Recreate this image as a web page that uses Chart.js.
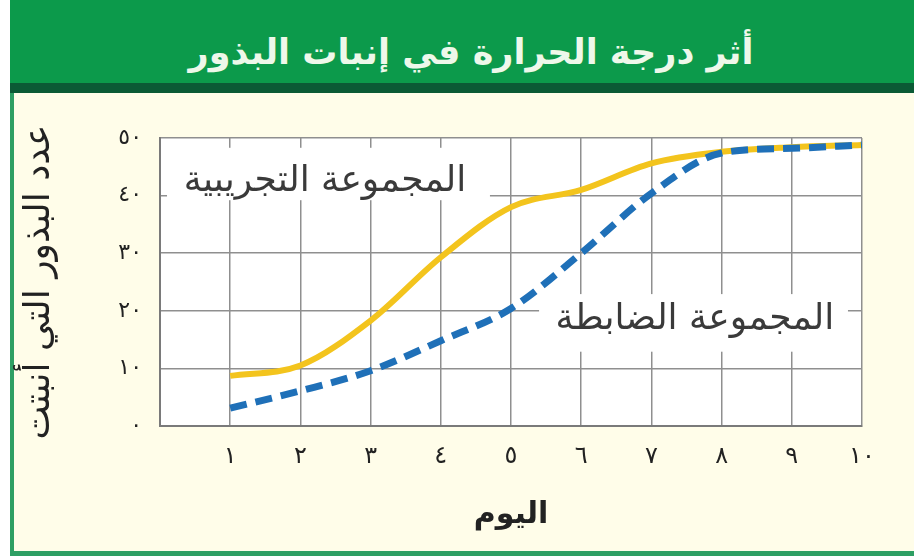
<!DOCTYPE html>
<html lang="ar">
<head>
<meta charset="utf-8">
<title>أثر درجة الحرارة في إنبات البذور</title>
<script src="https://cdn.jsdelivr.net/npm/chart.js@4.4.0/dist/chart.umd.min.js"></script>
<style>
  body { margin: 0; width: 914px; height: 557px; background: #fff; overflow: hidden; font-family: "DejaVu Sans", sans-serif; }
  #frame { position: absolute; left: 10px; top: 0; width: 904px; height: 556px; background: #fffde9;
           border-left: 4px solid #2e9f63; border-bottom: 5px solid #2e9f63; box-sizing: border-box; }
  #titleBar { position: absolute; left: 10px; top: 0; width: 904px; height: 83px; background: #0c9a4b;
              border-bottom: 10px solid #0b5a35; }
  #title { position: absolute; left: 10px; top: 0; width: 904px; height: 83px; line-height: 104px;
           text-align: center; color: #eef8ea; font-size: 35px; font-weight: bold; direction: rtl;
           padding-left: 18px; box-sizing: border-box; }
  #chartBox { position: absolute; left: 0; top: 95px; width: 914px; height: 462px; }
</style>
</head>
<body>
<div id="frame"></div>
<div id="titleBar"></div>
<div id="title">أثر درجة الحرارة في إنبات البذور</div>
<div id="chartBox"><canvas id="seedChart"></canvas></div>
<script>
const days = [1, 2, 3, 4, 5, 6, 7, 8, 9, 10];
const experimental = [8.7, 10.5, 18.3, 29.3, 38, 41, 45.6, 47.6, 48.4, 48.8];
const control = [3.1, 6.1, 9.6, 14.8, 20.4, 30, 40.4, 47.4, 48.2, 48.8];
const xTickLabels = ['', '١', '٢', '٣', '٤', '٥', '٦', '٧', '٨', '٩', '١٠'];
const yTickLabels = ['٠', '١٠', '٢٠', '٣٠', '٤٠', '٥٠'];
const seriesNames = ['المجموعة التجريبية', 'المجموعة الضابطة'];

const FONT = '"DejaVu Sans", sans-serif';

// white plot background
const plotBg = {
  id: 'plotBg',
  beforeDraw(chart) {
    const { ctx, chartArea: a } = chart;
    ctx.save();
    ctx.fillStyle = '#ffffff';
    ctx.fillRect(a.left, a.top, a.right - a.left, a.bottom - a.top);
    ctx.restore();
  }
};

// series names written in the plot, on white boxes that hide the grid
const seriesLabels = {
  id: 'seriesLabels',
  beforeDatasetsDraw(chart) {
    const { ctx } = chart;
    const x = chart.scales.x, y = chart.scales.y;
    const spots = [
      { text: seriesNames[0], cx: 2.35, cy: 42.4, x0: 0.1, x1: 4.7, y0: 48.3, y1: 39.2 },
      { text: seriesNames[1], cx: 7.62, cy: 18.5, x0: 5.4, x1: 9.8, y0: 22.9, y1: 12.9 }
    ];
    ctx.save();
    spots.forEach(s => {
      const l = x.getPixelForValue(s.x0), r = x.getPixelForValue(s.x1);
      const t = y.getPixelForValue(s.y0), b = y.getPixelForValue(s.y1);
      ctx.fillStyle = '#ffffff';
      ctx.fillRect(l, t, r - l, b - t);
      ctx.fillStyle = '#3a3a3a';
      ctx.font = '36px ' + FONT;
      ctx.direction = 'rtl';
      ctx.textAlign = 'center';
      ctx.textBaseline = 'middle';
      ctx.fillText(s.text, x.getPixelForValue(s.cx), y.getPixelForValue(s.cy));
    });
    ctx.restore();
  }
};

const ctx = document.getElementById('seedChart').getContext('2d');
new Chart(ctx, {
  type: 'line',
  data: {
    datasets: [
      {
        label: seriesNames[1],
        data: days.map((d, i) => ({ x: d, y: control[i] })),
        borderColor: '#1f70b8',
        borderWidth: 7,
        borderDash: [17, 9],
        cubicInterpolationMode: 'monotone',
        pointRadius: 0
      },
      {
        label: seriesNames[0],
        data: days.map((d, i) => ({ x: d, y: experimental[i] })),
        borderColor: '#f3c41d',
        borderWidth: 6,
        cubicInterpolationMode: 'monotone',
        pointRadius: 0
      }
    ]
  },
  options: {
    responsive: true,
    maintainAspectRatio: false,
    animation: false,
    layout: { padding: { top: 43, right: 52, left: 0, bottom: 0 } },
    plugins: { legend: { display: false }, tooltip: { enabled: false } },
    scales: {
      x: {
        type: 'linear',
        min: 0,
        max: 10,
        afterFit(scale) { scale.height = 131; },
        ticks: {
          stepSize: 1,
          maxRotation: 0,
          padding: 16,
          color: '#222',
          font: { family: FONT, size: 24 },
          callback: v => xTickLabels[v]
        },
        grid: { color: '#8f8f8f', lineWidth: 1.5, drawTicks: false },
        border: { color: '#7a7a7a', width: 2 },
        title: {
          display: true,
          text: 'اليوم',
          color: '#222',
          font: { family: FONT, size: 30, weight: 'bold' },
          padding: { top: 0, bottom: 24 }
        }
      },
      y: {
        min: 0,
        max: 50,
        afterFit(scale) { scale.width = 160; },
        ticks: {
          stepSize: 10,
          padding: 18,
          color: '#222',
          font: { family: FONT, size: 22 },
          callback: v => yTickLabels[v / 10]
        },
        grid: { color: '#8f8f8f', lineWidth: 1.5, drawTicks: false },
        border: { color: '#7a7a7a', width: 2 },
        title: {
          display: true,
          text: 'عدد البذور التي أنبتت',
          color: '#222',
          font: { family: FONT, size: 36 },
          padding: { top: 18, bottom: 0 }
        }
      }
    }
  },
  plugins: [plotBg, seriesLabels]
});
</script>
</body>
</html>
